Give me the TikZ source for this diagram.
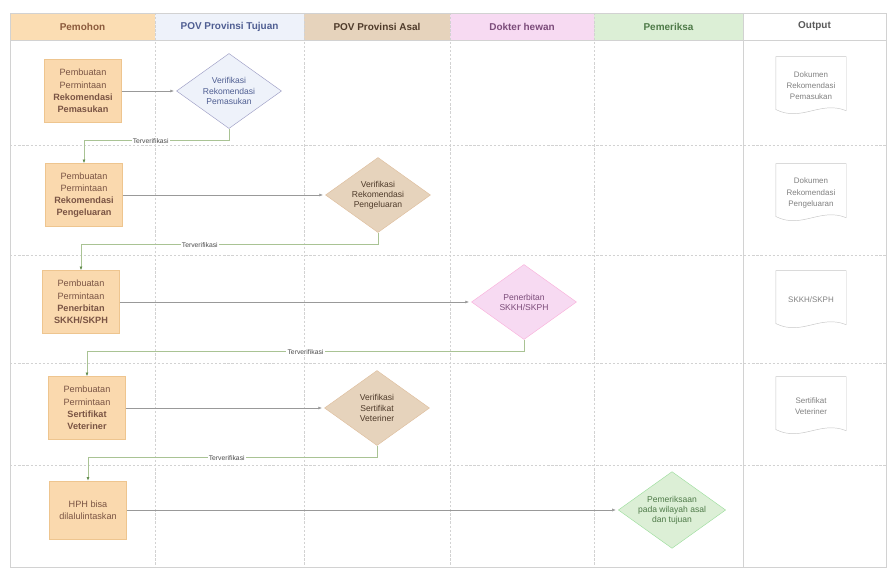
\documentclass[tikz,border=0pt]{standalone}
\usepackage{fontspec}
\setmainfont{Liberation Sans}
\usetikzlibrary{shapes.geometric,arrows.meta}

\definecolor{hdorange}{HTML}{FBDDB3}
\definecolor{hdblue}{HTML}{EEF2FA}
\definecolor{hdtan}{HTML}{E6D3BC}
\definecolor{hdpink}{HTML}{F7DAF2}
\definecolor{hdgreen}{HTML}{DCEFD6}
\definecolor{boxfill}{HTML}{FAD9AE}
\definecolor{boxline}{HTML}{EEC58F}
\definecolor{boxtext}{HTML}{7A5444}
\definecolor{gridline}{HTML}{D2D2D2}
\definecolor{okline}{HTML}{A9C394}
\definecolor{okdark}{HTML}{5E8A4A}
\definecolor{txtorange}{HTML}{8B5A3C}
\definecolor{txtblue}{HTML}{4F5E92}
\definecolor{txttan}{HTML}{4E3A2A}
\definecolor{txtpink}{HTML}{7C4C7A}
\definecolor{txtgreen}{HTML}{4E7A48}

\tikzset{
  lanehead/.style={rectangle,minimum height=0.81cm,inner sep=0pt,
    font=\fontsize{8.5}{10}\selectfont\bfseries},
  reqbox/.style={rectangle,fill=boxfill,draw=boxline,line width=0.3pt,
    minimum width=2.3cm,minimum height=1.9cm,inner sep=1pt,align=center,text=boxtext,
    font=\fontsize{7.8}{10.4}\selectfont},
  checkbox/.style={diamond,aspect=1.4,inner sep=0pt,line width=0.4pt,
    minimum width=3.15cm,minimum height=2.25cm,align=center,
    font=\fontsize{7.3}{8.6}\selectfont},
  outdoc/.style={rectangle,minimum width=2.1cm,minimum height=1.75cm,
    align=center,text=gray,font=\fontsize{6.8}{9.5}\selectfont},
  lanesep/.style={gridline,line width=0.4pt,dash pattern=on 2pt off 1.5pt},
  sendline/.style={gray!80,line width=0.4pt,-{Latex[length=3pt,width=2.5pt]},
    shorten >=2pt},
  okpath/.style={okline,line width=0.5pt,
    -{Latex[length=3pt,width=2.5pt,color=okdark]}},
  oklabel/.style={fill=white,inner sep=1pt,text=black!70,
    font=\fontsize{5.8}{6}\selectfont}
}

\begin{document}
\begin{tikzpicture}[x=0.03cm,y=-0.03cm]
\useasboundingbox (0,0) rectangle (892,571);

\node[lanehead,fill=hdorange,minimum width=4.35cm,text=txtorange] (h1) at (82.5,26.5) {Pemohon};
\node[lanehead,fill=hdblue,minimum width=4.47cm,text=txtblue] (h2) at (229.5,26.5) {POV Provinsi Tujuan};
\node[lanehead,fill=hdtan,minimum width=4.38cm,text=txttan] (h3) at (377,26.5) {POV Provinsi Asal};
\node[lanehead,fill=hdpink,minimum width=4.32cm,text=txtpink] (h4) at (522,26.5) {Dokter hewan};
\node[lanehead,fill=hdgreen,minimum width=4.47cm,text=txtgreen] (h5) at (668.5,26.5) {Pemeriksa};
\node[lanehead,fill=white,minimum width=4.29cm,text=black!65] (h6) at (814.5,26.5) {Output};

\draw[gridline,line width=0.5pt] (10,13) rectangle (886,567);
\draw[gridline,line width=0.5pt] (10,40)--(886,40);
\draw[lanesep] (10,145)--(886,145);
\draw[lanesep] (10,255)--(886,255);
\draw[lanesep] (10,363)--(886,363);
\draw[lanesep] (10,465)--(886,465);
\draw[lanesep] (155,13)--(155,567);
\draw[lanesep] (304,13)--(304,567);
\draw[lanesep] (450,13)--(450,567);
\draw[lanesep] (594,13)--(594,567);
\draw[gridline,line width=0.5pt] (743,13)--(743,567);

\node[reqbox] (b1) at (83,91) {Pembuatan\\Permintaan\\\textbf{Rekomendasi}\\\textbf{Pemasukan}};
\node[reqbox] (b2) at (84,195) {Pembuatan\\Permintaan\\\textbf{Rekomendasi}\\\textbf{Pengeluaran}};
\node[reqbox] (b3) at (81,302) {Pembuatan\\Permintaan\\\textbf{Penerbitan}\\\textbf{SKKH/SKPH}};
\node[reqbox] (b4) at (87,408) {Pembuatan\\Permintaan\\\textbf{Sertifikat}\\\textbf{Veteriner}};
\node[reqbox,minimum height=1.75cm] (b5) at (88,510) {HPH bisa\\dilalulintaskan};

\node[checkbox,fill=hdblue,draw=blue!25!gray!60,text=txtblue] (d1) at (229,91) {Verifikasi\\Rekomendasi\\Pemasukan};
\node[checkbox,fill=hdtan,draw=brown!50,text=txttan] (d2) at (378,195) {Verifikasi\\Rekomendasi\\Pengeluaran};
\node[checkbox,fill=hdpink,draw=magenta!30,text=txtpink] (d3) at (524,302) {Penerbitan\\SKKH/SKPH};
\node[checkbox,fill=hdtan,draw=brown!50,text=txttan] (d4) at (377,408) {Verifikasi\\Sertifikat\\Veteriner};
\node[checkbox,fill=hdgreen,draw=green!50!gray!50,text=txtgreen] (d5) at (672,510) {Pemeriksaan\\pada wilayah asal\\dan tujuan};

\draw[sendline] (b1) -- (d1);
\draw[sendline] (b2) -- (d2);
\draw[sendline] (b3) -- (d3);
\draw[sendline] (b4) -- (d4);
\draw[sendline] (b5) -- (d5);

\draw[okpath] (d1.south) -- ++(0,12) -| (b2.north) node[oklabel,pos=0.27] {Terverifikasi};
\draw[okpath] (d2.south) -- ++(0,12) -| (b3.north) node[oklabel,pos=0.3] {Terverifikasi};
\draw[okpath] (d3.south) -- ++(0,12) -| (b4.north) node[oklabel,pos=0.25] {Terverifikasi};
\draw[okpath] (d4.south) -- ++(0,12) -| (b5.north) node[oklabel,pos=0.26] {Terverifikasi};

\node[outdoc] (o1) at (811,86) {Dokumen\\Rekomendasi\\Pemasukan};
\node[outdoc] (o2) at (811,193) {Dokumen\\Rekomendasi\\Pengeluaran};
\node[outdoc] (o3) at (811,300) {SKKH/SKPH};
\node[outdoc] (o4) at (811,406) {Sertifikat\\Veteriner};
\foreach \d in {o1,o2,o3,o4}
  \draw[gray!45,line width=0.4pt] (\d.north west) -- (\d.north east) -- ([yshift=4pt]\d.south east)
    .. controls ([xshift=-22pt,yshift=13pt]\d.south east) and ([xshift=22pt,yshift=-6pt]\d.south west)
    .. ([yshift=5pt]\d.south west) -- cycle;
\end{tikzpicture}
\end{document}
